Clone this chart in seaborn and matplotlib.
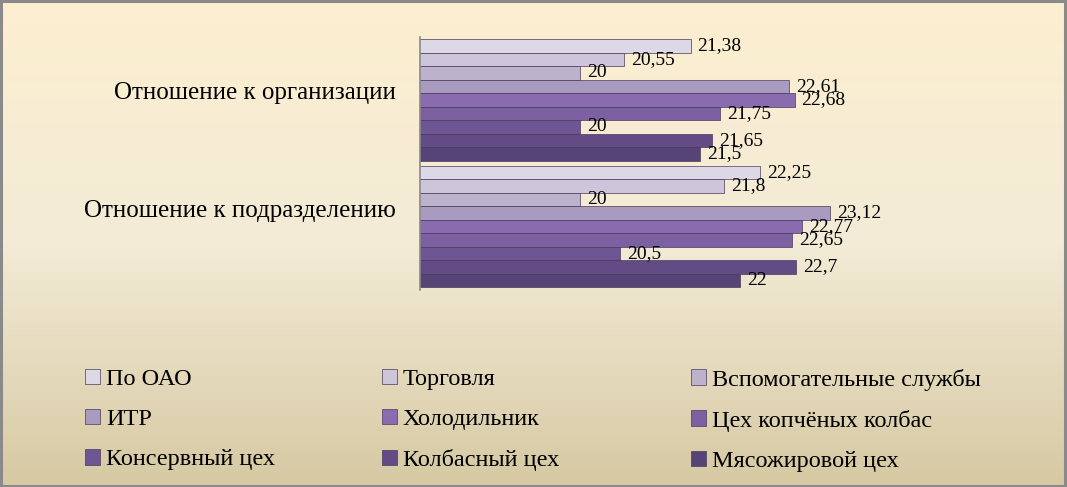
import numpy as np
import pandas as pd
import matplotlib
matplotlib.use("Agg")
import matplotlib.pyplot as plt
import matplotlib.transforms as mtransforms
import seaborn as sns
from matplotlib.colors import LinearSegmentedColormap

categories = ["Отношение к организации", "Отношение к подразделению"]
series = ["По ОАО", "Торговля", "Вспомогательные службы", "ИТР", "Холодильник",
          "Цех копчёных колбас", "Консервный цех", "Колбасный цех", "Мясожировой цех"]
values_org = [21.38, 20.55, 20, 22.61, 22.68, 21.75, 20, 21.65, 21.5]
values_div = [22.25, 21.8, 20, 23.12, 22.77, 22.65, 20.5, 22.7, 22]
labels_org = ["21,38", "20,55", "20", "22,61", "22,68", "21,75", "20", "21,65", "21,5"]
labels_div = ["22,25", "21,8", "20", "23,12", "22,77", "22,65", "20,5", "22,7", "22"]
colors = ["#dcd8e6", "#cdc6da", "#bcb2cc", "#a99bbf", "#8b6bb0",
          "#7c60a2", "#6e5594", "#634c85", "#574476"]

rows = []
for s, vo, vd in zip(series, values_org, values_div):
    rows.append({"cat": categories[0], "series": s, "value": vo})
    rows.append({"cat": categories[1], "series": s, "value": vd})
df = pd.DataFrame(rows)

sns.set_theme(style="white")
plt.rcParams["font.family"] = ["Liberation Serif", "DejaVu Serif"]
plt.rcParams["text.color"] = "black"

fig = plt.figure(figsize=(10.67, 4.87), dpi=100)

# background gradient
bg = fig.add_axes([0, 0, 1, 1], zorder=-10)
cmap = LinearSegmentedColormap.from_list("bg", [(0, "#fdefd0"), (0.5, "#f3ebd6"), (1, "#d6c9a3")])
grad = np.linspace(0, 1, 256).reshape(-1, 1)
bg.imshow(grad, aspect="auto", cmap=cmap, extent=[0, 1, 0, 1])
bg.set_xlim(0, 1); bg.set_ylim(0, 1)
bg.axis("off")
bg.add_patch(plt.Rectangle((0.001, 0.002), 0.997, 0.995, fill=False,
                           edgecolor="#8a8a8a", linewidth=2.2, transform=bg.transAxes))

ax = fig.add_axes([0.394, 0.405, 0.472, 0.52])
ax.patch.set_alpha(0)
sns.barplot(data=df, y="cat", x="value", hue="series", hue_order=series,
            order=categories, palette=colors, orient="h", width=0.96,
            ax=ax, legend=True, edgecolor="#4a3a5a", linewidth=0.5, saturation=1)
ax.set_xlim(18, 24.3)
ax.set_xlabel(""); ax.set_ylabel("")
ax.set_xticks([])
ax.tick_params(axis="y", length=0, labelsize=18, pad=18)
offsets = [9, 18]
for t, off in zip(ax.get_yticklabels(), offsets):
    t.set_color("black")
    t.set_transform(t.get_transform() + mtransforms.ScaledTranslation(0, off / 100, fig.dpi_scale_trans))
for sp in ["top", "right", "bottom"]:
    ax.spines[sp].set_visible(False)
ax.spines["left"].set_color("#8a8a8a")
ax.spines["left"].set_linewidth(1.2)

for i, cont in enumerate(ax.containers):
    labs = [labels_org[i], labels_div[i]]
    ax.bar_label(cont, labels=labs, padding=5, fontsize=14, color="black")

handles, lbls = ax.get_legend_handles_labels()
ax.get_legend().remove()
col_x = [0.080, 0.358, 0.648]
for c in range(3):
    idx = [c, c + 3, c + 6]
    leg = fig.legend([handles[k] for k in idx], [lbls[k] for k in idx],
                     loc="upper left", bbox_to_anchor=(col_x[c], 0.243), frameon=False,
                     fontsize=17.5, handlelength=0.6, handleheight=0.6,
                     handletextpad=0.25, labelspacing=0.78, borderpad=0, borderaxespad=0)
    for txt in leg.get_texts():
        txt.set_color("black")

fig.savefig("out.png", dpi=100)
